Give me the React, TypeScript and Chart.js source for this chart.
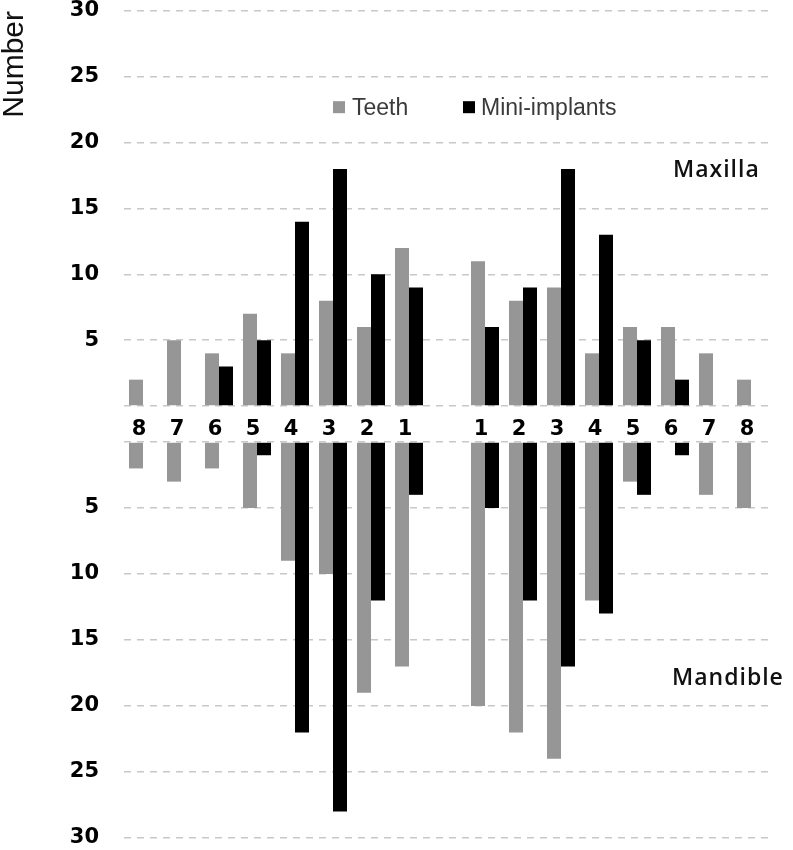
import React, { useEffect, useRef } from 'react';
import { Chart, registerables } from 'chart.js';

Chart.register(...registerables);

// ---- data ----
const categories = ['8', '7', '6', '5', '4', '3', '2', '1', '', '1', '2', '3', '4', '5', '6', '7', '8'];
const maxillaTeeth = [2, 5, 4, 7, 4, 8, 6, 12, null, 11, 8, 9, 4, 6, 6, 4, 2];
const maxillaMini = [0, 0, 3, 5, 14, 18, 10, 9, null, 6, 9, 18, 13, 5, 2, 0, 0];
const mandibleTeeth = [2, 3, 2, 5, 9, 10, 19, 17, null, 20, 22, 24, 12, 3, 0, 4, 5];
const mandibleMini = [0, 0, 0, 1, 22, 28, 12, 4, null, 5, 12, 17, 13, 4, 1, 0, 0];
const yTickValues = [0, 5, 10, 15, 20, 25, 30];
const seriesNames = ['Teeth', 'Mini-implants'];
const seriesColors = ['#969696', '#000000'];
const jawLabels = ['Maxilla', 'Mandible'];
const yTitle = 'Number';

const TICK_FONT = { family: '"DejaVu Sans", sans-serif', size: 21, weight: 'bold' as const, lineHeight: 1 };
const CAT_FONT = { family: '"DejaVu Sans", sans-serif', size: 21, weight: 'bold' as const, lineHeight: 1 };

const annotationPlugin = {
  id: 'jawAnnotations',
  afterDraw(chart: any) {
    const { ctx, chartArea, scales } = chart;
    const yTop = scales.y;
    const yBot = scales.y2;
    const L = chartArea.left;
    ctx.save();
    // legend
    const sqTop = yTop.getPixelForValue(23.15);
    ctx.font = '23px "Liberation Sans", Arial, sans-serif';
    ctx.textBaseline = 'alphabetic';
    ctx.textAlign = 'left';
    const items = [
      { sx: L + 209, tx: L + 228 },
      { sx: L + 339, tx: L + 357 },
    ];
    items.forEach((it, i) => {
      ctx.fillStyle = seriesColors[i];
      ctx.fillRect(it.sx, sqTop, 12, 12);
      ctx.fillStyle = '#3a3a3a';
      ctx.fillText(seriesNames[i], it.tx, sqTop + 14);
    });
    // jaw labels
    ctx.font = '600 23px "Open Sans", sans-serif';
    try { (ctx as any).letterSpacing = '1px'; } catch (e) { /* ignore */ }
    ctx.fillStyle = '#111111';
    ctx.fillText(jawLabels[0], L + 549, yTop.getPixelForValue(17.4));
    ctx.fillText(jawLabels[1], L + 548, yBot.getPixelForValue(18.4));
    ctx.restore();
  },
};

export default function App() {
  const canvasRef = useRef<HTMLCanvasElement | null>(null);

  useEffect(() => {
    if (!canvasRef.current) return;
    const gridCommon = { color: '#c8c8c8', lineWidth: 1.5, drawTicks: true, tickLength: 25, tickColor: 'rgba(0,0,0,0)' };
    const borderCommon = { display: false, dash: [7, 6] };
    const tickCb = (v: any) => (Number(v) === 0 ? '' : String(v));
    const chart = new Chart(canvasRef.current, {
      type: 'bar',
      data: {
        labels: categories,
        datasets: [
          { label: seriesNames[0], data: maxillaTeeth, backgroundColor: seriesColors[0], yAxisID: 'y', stack: 'teeth' },
          { label: seriesNames[1], data: maxillaMini, backgroundColor: seriesColors[1], yAxisID: 'y', stack: 'mini' },
          { label: seriesNames[0], data: mandibleTeeth, backgroundColor: seriesColors[0], yAxisID: 'y2', stack: 'teeth' },
          { label: seriesNames[1], data: mandibleMini, backgroundColor: seriesColors[1], yAxisID: 'y2', stack: 'mini' },
        ],
      },
      options: {
        animation: false,
        responsive: true,
        maintainAspectRatio: false,
        layout: { padding: { top: 11, bottom: 12, left: 0, right: 23 } },
        datasets: { bar: { categoryPercentage: 0.737, barPercentage: 1, borderWidth: 0 } },
        plugins: { legend: { display: false }, tooltip: { enabled: false } },
        scales: {
          x: {
            type: 'category',
            position: { y: 0 } as any,
            grid: { display: false, drawTicks: false },
            border: { display: false },
            ticks: { color: '#000', font: CAT_FONT, padding: 13, labelOffset: -4, autoSkip: false, maxRotation: 0 },
          },
          y2: {
            type: 'linear',
            position: 'left',
            stack: 'jaw',
            stackWeight: 432,
            min: -2.73,
            max: 30,
            reverse: true,
            afterBuildTicks: (s: any) => { s.ticks = yTickValues.map((v) => ({ value: v })); },
            afterFit: (s: any) => { s.width = 124; },
            grid: gridCommon,
            border: borderCommon,
            ticks: { color: '#000', font: TICK_FONT, padding: 0, callback: tickCb },
          },
          y: {
            type: 'linear',
            position: 'left',
            stack: 'jaw',
            stackWeight: 395,
            min: 0,
            max: 30,
            afterBuildTicks: (s: any) => { s.ticks = yTickValues.map((v) => ({ value: v })); },
            afterFit: (s: any) => { s.width = 124; },
            grid: gridCommon,
            border: borderCommon,
            ticks: { color: '#000', font: TICK_FONT, padding: 0, callback: tickCb },
            title: {
              display: true,
              text: yTitle,
              align: 'end',
              color: '#111111',
              font: { family: '"Liberation Sans", Arial, sans-serif', size: 30, lineHeight: 1 },
              padding: 0,
            },
          },
        },
      } as any,
      plugins: [annotationPlugin],
    });
    return () => chart.destroy();
  }, []);

  return (
    <div style={{ position: 'absolute', left: 0, top: 0, width: 793, height: 850, background: '#fff' }}>
      <canvas ref={canvasRef} />
    </div>
  );
}
